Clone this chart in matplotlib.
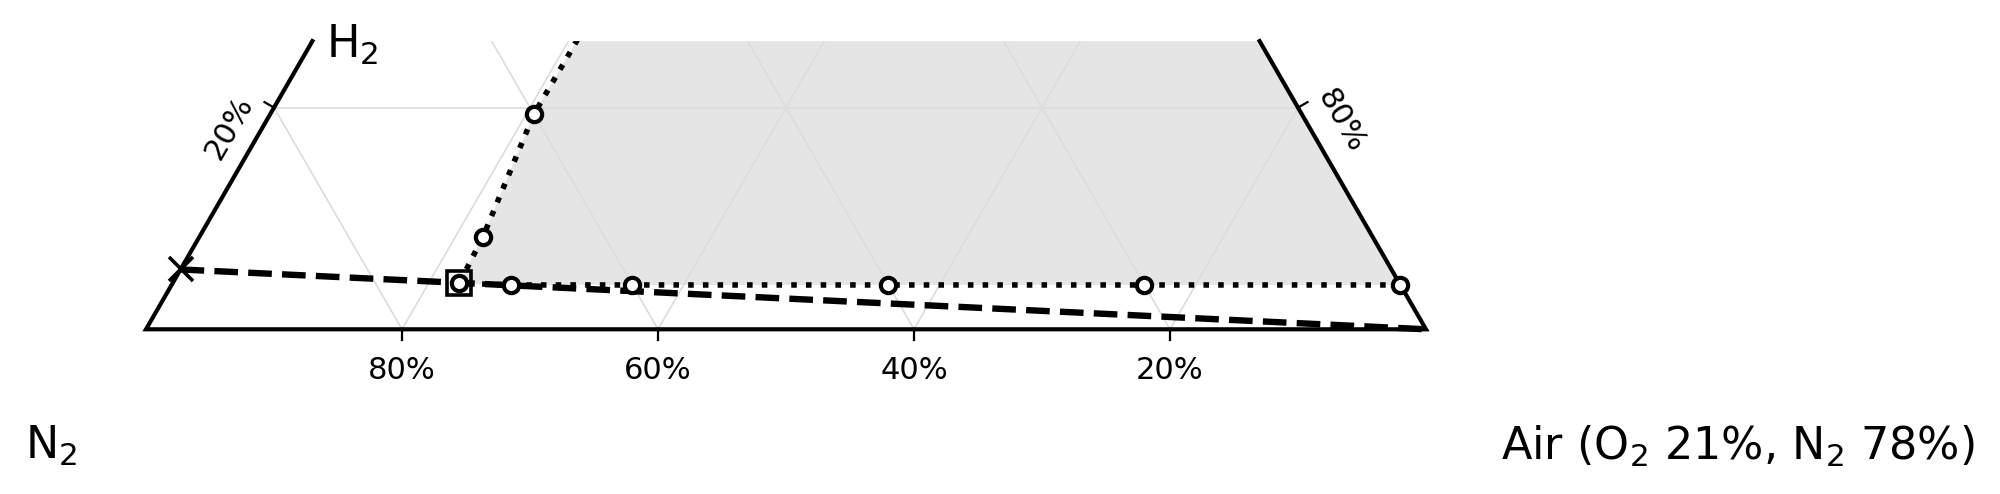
import numpy as np
import matplotlib.pyplot as plt
from matplotlib.patches import Polygon

# --------------------------
# Data (mole fractions)
# --------------------------
# flammability envelope of H2 in N2 / air, as (H2, Air) pairs
env_h2 = [0.04, 0.04, 0.04, 0.04, 0.04, 0.0415, 0.0835, 0.194, 0.35]
env_air = [0.96, 0.76, 0.56, 0.36, 0.265, 0.224, 0.2215, 0.206, 0.207]

# H2/N2 mixture diluted with air
mix_h2 = [0.054, 0.0]
mix_air = [0.0, 1.0]

# tangent point of the dilution line with the envelope
nose_h2 = [0.0415]
nose_air = [0.224]

grid_vals = [0.2, 0.4, 0.6, 0.8]
h2_max = 0.26

PX = 1 / 1280  # one pixel in data units


def cart(h2, air):
    h2 = np.asarray(h2, float)
    air = np.asarray(air, float)
    return air + h2 / 2, h2 * np.sqrt(3) / 2


# --------------------------
# Figure
# --------------------------
fig = plt.figure(figsize=(10, 2.47), dpi=200)
ax = fig.add_axes([0, 0, 1, 1])
ax.set_xlim(-146 * PX, (2000 - 146) * PX)
ax.set_ylim(-164.7 * PX, (494 - 164.7) * PX)
ax.set_aspect("auto")
ax.axis("off")

# clipping trapezoid (triangle cut at h2_max)
cx, cy = cart([0, h2_max, h2_max, 0], [0, 0, 1 - h2_max, 1])
clip = Polygon(np.column_stack([cx, cy]), closed=True, transform=ax.transData,
               facecolor="none", edgecolor="none")
ax.add_patch(clip)

# flammable region
fx, fy = cart(env_h2 + [env_h2[-1], env_h2[0]],
              env_air + [1 - env_h2[-1], env_air[0]])
fill = ax.fill(fx, fy, color="#e5e5e5", lw=0, zorder=1)[0]
fill.set_clip_path(clip)

# grid
for v in grid_vals:
    lines = [
        cart([v, v], [0, 1 - v]),                 # H2 = const
        cart([0, 1 - v], [1 - v, 0]),             # N2 = v
        cart([0, 1 - v], [v, v]),                 # Air = v
    ]
    for gx, gy in lines:
        ln, = ax.plot(gx, gy, color="#dcdcdc", lw=0.6, zorder=2)
        ln.set_clip_path(clip)

# frame
ex, ey = cart([h2_max, 0, 0, h2_max], [0, 0, 1, 1 - h2_max])
ax.plot(ex, ey, color="black", lw=1.5, zorder=3, solid_joinstyle="miter")

# ticks and tick labels
tick = 11 * PX
for v in grid_vals:
    # bottom axis: N2
    bx, by = cart(0, 1 - v)
    ax.plot([bx, bx], [by, by - tick], color="black", lw=0.8, zorder=3)
    ax.text(bx, by - 41 * PX, f"{v * 100:.0f}%", ha="center", va="center",
            fontsize=11)
    if v <= h2_max:
        # left axis: H2
        lx, ly = cart(v, 0)
        ax.plot([lx, lx - tick * 0.866], [ly, ly + tick * 0.5],
                color="black", lw=0.8, zorder=3)
        ax.text(lx - 45 * PX, ly - 20 * PX, f"{v * 100:.0f}%", rotation=60,
                ha="center", va="center", fontsize=11, rotation_mode="anchor")
        # right axis: Air
        rx, ry = cart(v, 1 - v)
        ax.plot([rx, rx + tick * 0.866], [ry, ry + tick * 0.5],
                color="black", lw=0.8, zorder=3)
        ax.text(rx + 43 * PX, ry - 13 * PX, f"{(1 - v) * 100:.0f}%", rotation=-60,
                ha="center", va="center", fontsize=11, rotation_mode="anchor")

# dilution line
mx, my = cart(mix_h2, mix_air)
ax.plot(mx, my, color="black", lw=2.3, ls="--", zorder=4)
ax.plot(mx[0], my[0], marker="x", ms=8.5, mew=1.3, color="black", zorder=6)

# envelope
vx, vy = cart(env_h2, env_air)
env_line, = ax.plot(vx, vy, color="black", lw=2, ls=":", zorder=5)
env_line.set_clip_path(clip)
inside = np.asarray(env_h2) <= h2_max
ax.plot(vx[inside], vy[inside], ls="none", marker="o", ms=5.5, mew=1.5,
        mfc="white", mec="black", zorder=6)

# tangent point
nx, ny = cart(nose_h2, nose_air)
ax.plot(nx, ny, ls="none", marker="s", ms=8.5, mew=1.3, mfc="none",
        mec="black", zorder=7)

# corner labels
ax.text(352 * PX - 146 * PX, (329.3 - 45) * PX, r"H$_2$", ha="center",
        va="center", fontsize=16)
ax.text(51 * PX - 146 * PX, (329.3 - 446) * PX, r"N$_2$", ha="center",
        va="center", fontsize=16)
ax.text(1738 * PX - 146 * PX, (329.3 - 446) * PX,
        r"Air (O$_2$ 21%, N$_2$ 78%)", ha="center", va="center", fontsize=16)

fig.savefig("out.png", dpi=200)
